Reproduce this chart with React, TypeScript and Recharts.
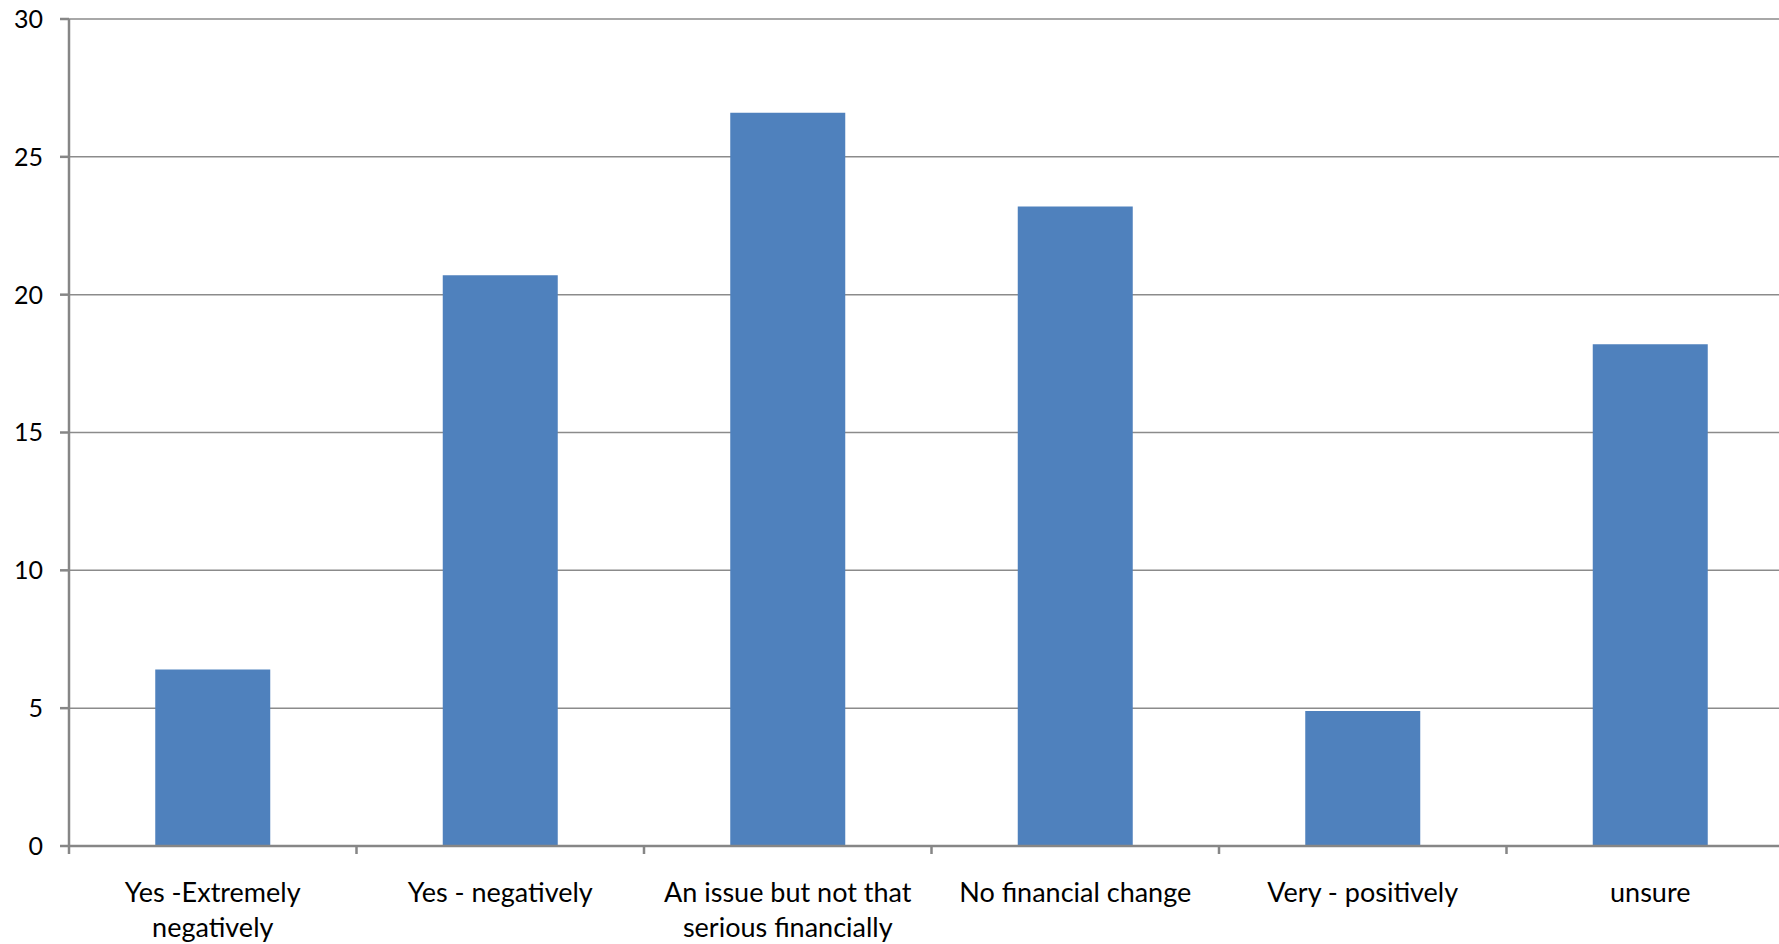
import { BarChart, Bar, XAxis, YAxis, CartesianGrid } from "recharts";

// "\n" marks where the reference wraps the label
const categories = [
  "Yes -Extremely\nnegatively",
  "Yes - negatively",
  "An issue but not that\nserious financially",
  "No financial change",
  "Very - positively",
  "unsure",
];

const values = [6.4, 20.7, 26.6, 23.2, 4.9, 18.2];

const yTicks = [0, 5, 10, 15, 20, 25, 30];
const edgeTicks = [0, 1, 2, 3, 4, 5, 6];

const data = categories.map((name, i) => ({ name, value: values[i] }));

const FONT = "Lato, 'Open Sans', sans-serif";
const AXIS = "#868686";
const LABEL_SIZE = 27;

// multi-line category label under the x axis
function CategoryTick(props: any) {
  const { x, y, payload } = props;
  const lines = String(payload.value).split("\n");
  return (
    <text
      x={x}
      y={y}
      textAnchor="middle"
      fill="#000"
      fontSize={LABEL_SIZE}
      fontFamily={FONT}
    >
      {lines.map((line, i) => (
        <tspan key={i} x={x} dy={i === 0 ? LABEL_SIZE * 0.71 : 35}>
          {line}
        </tspan>
      ))}
    </text>
  );
}

// the edge axis only shows its tick marks, no labels
function NoLabel() {
  return <g />;
}

export default function App() {
  return (
    <div
      style={{
        position: "absolute",
        left: 0,
        top: 0,
        width: 1779,
        height: 944,
        overflow: "hidden",
        background: "#fff",
      }}
    >
      <BarChart
        width={1794}
        height={944}
        data={data}
        margin={{ top: 19, right: 0, left: 0, bottom: 0 }}
        barCategoryGap="30%"
      >
        <CartesianGrid
          horizontal={true}
          vertical={false}
          stroke="#8b8b8b"
          strokeWidth={1.5}
        />
        {/* numeric axis 0..6 across the plot: ticks fall on category boundaries */}
        <XAxis
          xAxisId="a"
          type="number"
          dataKey="value"
          domain={[0, 6]}
          ticks={edgeTicks}
          height={8}
          tickSize={8}
          tick={<NoLabel />}
          stroke={AXIS}
          strokeWidth={2.5}
          allowDataOverflow
        />
        <XAxis
          xAxisId="b"
          dataKey="name"
          interval={0}
          height={90}
          axisLine={false}
          tickLine={false}
          tickSize={0}
          tickMargin={29}
          tick={<CategoryTick />}
        />
        <YAxis
          width={69}
          domain={[0, 30]}
          ticks={yTicks}
          tickSize={9}
          tickMargin={17}
          stroke={AXIS}
          strokeWidth={2.5}
          tick={{ fill: "#000", fontSize: 25, fontFamily: FONT }}
        />
        <Bar
          xAxisId="b"
          dataKey="value"
          fill="#4f81bd"
          isAnimationActive={false}
        />
      </BarChart>
    </div>
  );
}
